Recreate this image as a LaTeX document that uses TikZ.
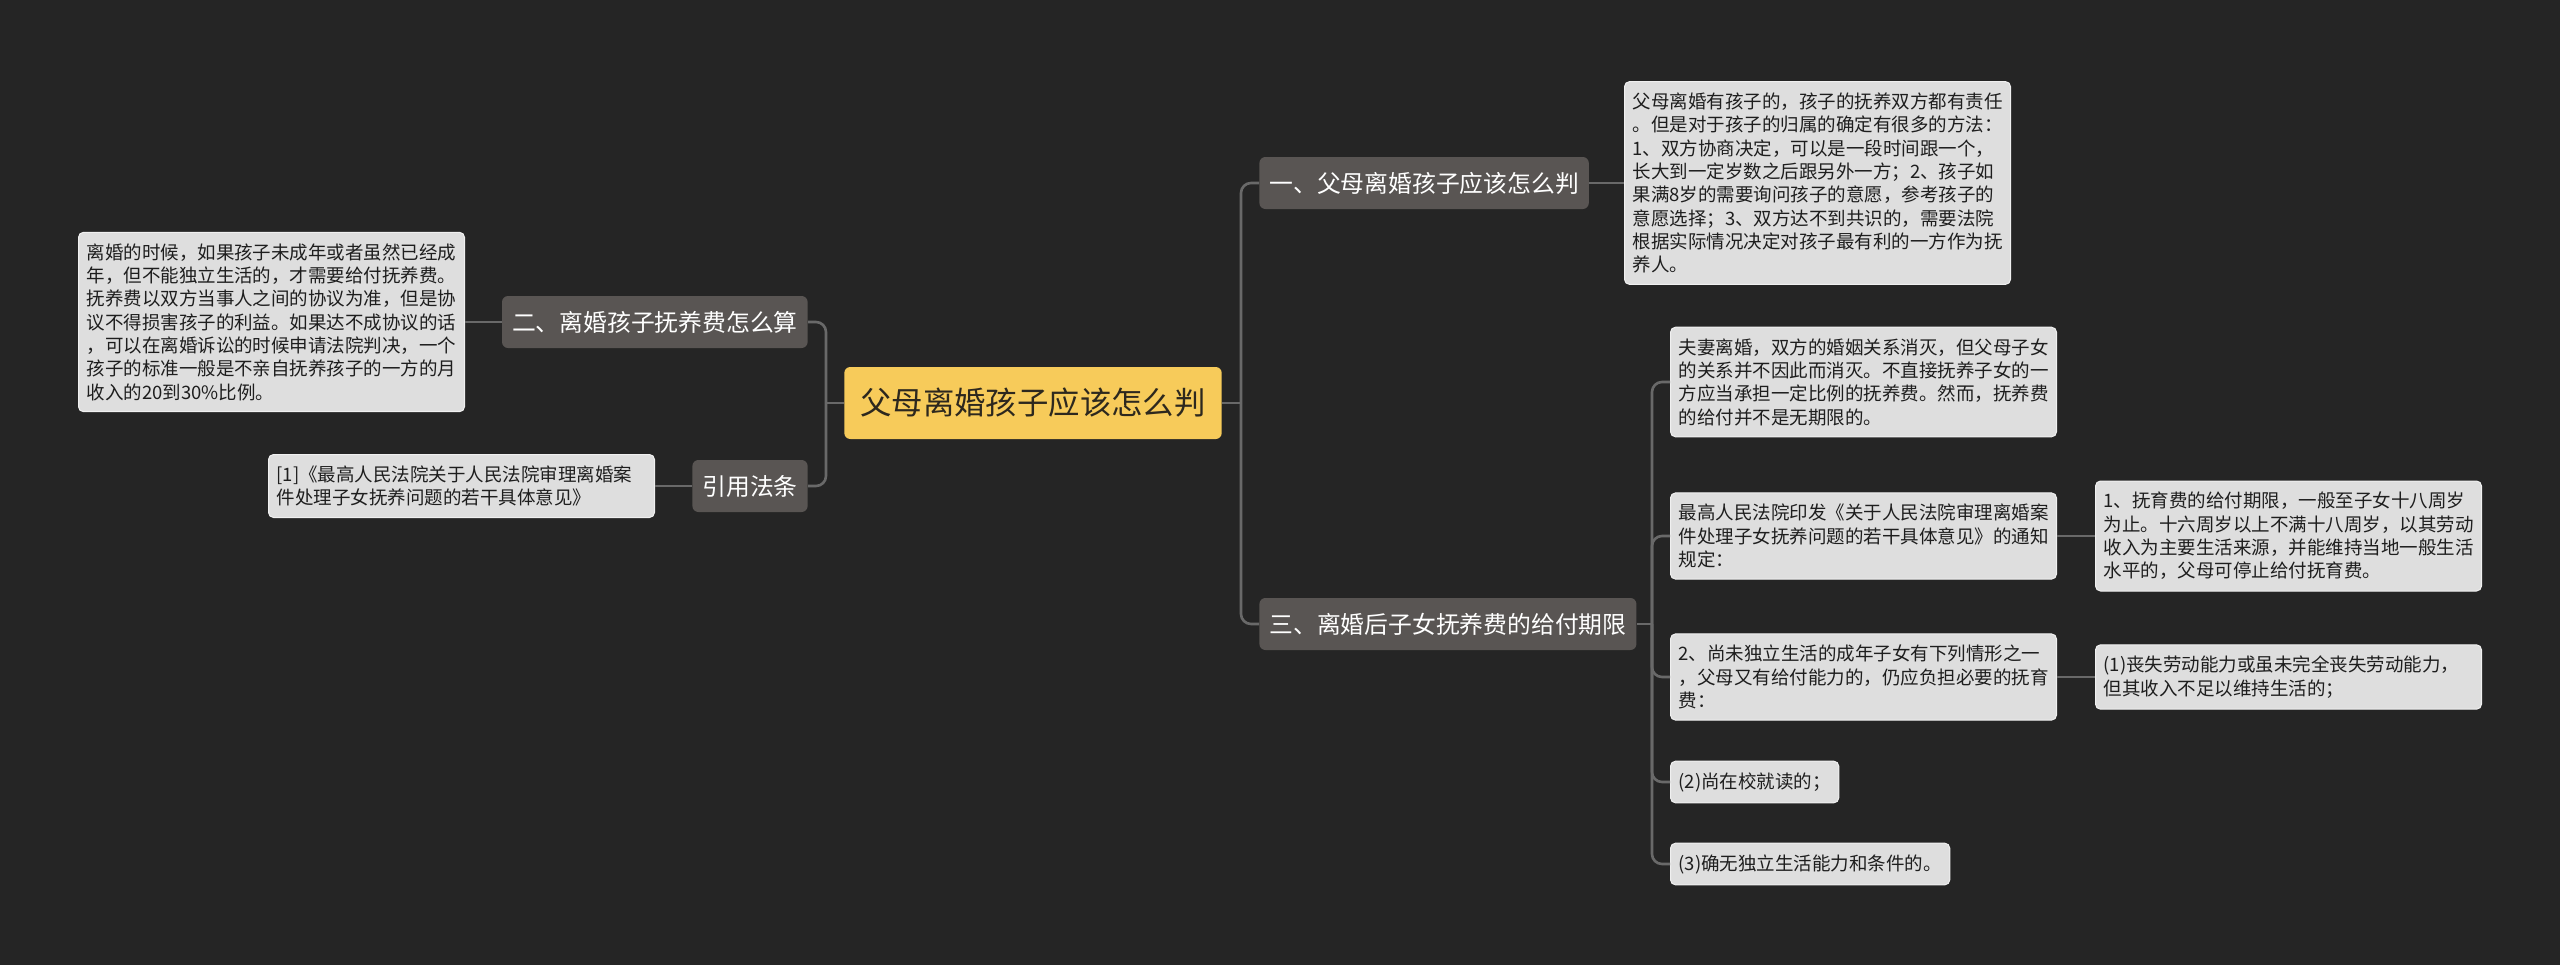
\documentclass[tikz,border=0pt]{standalone}
\usepackage{fontspec}
\setmainfont{Noto Sans CJK SC}
\usetikzlibrary{positioning}
\definecolor{bgdark}{RGB}{37,37,37}
\definecolor{rootfill}{RGB}{247,203,90}
\definecolor{rootink}{RGB}{45,40,30}
\definecolor{branchfill}{RGB}{89,85,83}
\definecolor{leaffill}{RGB}{222,222,222}
\definecolor{leafrim}{RGB}{240,240,240}
\definecolor{leafink}{RGB}{30,30,30}
\definecolor{wire}{RGB}{105,105,105}
\tikzset{
  root/.style={fill=rootfill,text=rootink,rounded corners=3pt,inner xsep=8pt,
    minimum height=36pt,font=\fontsize{15.7}{18}\selectfont},
  branch/.style={fill=branchfill,text=white,rounded corners=3pt,inner xsep=5pt,
    minimum height=26pt,font=\fontsize{11.9}{14}\selectfont},
  leaf/.style={fill=leaffill,draw=leafrim,line width=0.5pt,text=leafink,
    rounded corners=2.5pt,align=left,inner xsep=4pt,inner ysep=5.6pt,
    font=\fontsize{9.25}{11.65}\selectfont},
  wideleaf/.style={leaf,text width=185pt},
  wire/.style={draw=wire,line width=1.3pt},
  elbow/.style={wire,rounded corners=5pt},
}

\begin{document}
\begin{tikzpicture}[x=0.5pt,y=-0.5pt]
  \fill[bgdark] (0,0) rectangle (2560,965);
  \useasboundingbox (0,0) rectangle (2560,965);
  % centre
  \node[root] (root) at (1033,403) {父母离婚孩子应该怎么判};
  % right side
  \node[branch,anchor=west] (judge) at (1259,183) {一、父母离婚孩子应该怎么判};
  \node[branch,anchor=west] (term) at (1259,624) {三、离婚后子女抚养费的给付期限};
  \node[leaf,anchor=west] (judgetxt) at (1624,183) {父母离婚有孩子的，孩子的抚养双方都有责任\\
    。但是对于孩子的归属的确定有很多的方法：\\
    1、双方协商决定，可以是一段时间跟一个，\\
    长大到一定岁数之后跟另外一方；2、孩子如\\
    果满8岁的需要询问孩子的意愿，参考孩子的\\
    意愿选择；3、双方达不到共识的，需要法院\\
    根据实际情况决定对孩子最有利的一方作为抚\\
    养人。};
  \node[leaf,anchor=west] (termA) at (1670,382) {夫妻离婚，双方的婚姻关系消灭，但父母子女\\
    的关系并不因此而消灭。不直接抚养子女的一\\
    方应当承担一定比例的抚养费。然而，抚养费\\
    的给付并不是无期限的。};
  \node[leaf,anchor=west] (termB) at (1670,536) {最高人民法院印发《关于人民法院审理离婚案\\
    件处理子女抚养问题的若干具体意见》的通知\\
    规定：};
  \node[leaf,anchor=west] (termBsub) at (2095,536) {1、抚育费的给付期限，一般至子女十八周岁\\
    为止。十六周岁以上不满十八周岁，以其劳动\\
    收入为主要生活来源，并能维持当地一般生活\\
    水平的，父母可停止给付抚育费。};
  \node[leaf,anchor=west] (termC) at (1670,677) {2、尚未独立生活的成年子女有下列情形之一\\
    ，父母又有给付能力的，仍应负担必要的抚育\\
    费：};
  \node[wideleaf,anchor=west] (termCsub) at (2095,677) {(1)丧失劳动能力或虽未完全丧失劳动能力，\\
    但其收入不足以维持生活的；};
  \node[leaf,anchor=west] (termD) at (1670,782) {(2)尚在校就读的；};
  \node[leaf,anchor=west] (termE) at (1670,864) {(3)确无独立生活能力和条件的。};
  % left side
  \node[branch,anchor=east] (fee) at (808,322) {二、离婚孩子抚养费怎么算};
  \node[branch,anchor=east] (law) at (808,486) {引用法条};
  \node[leaf,anchor=east] (feetxt) at (465,322) {离婚的时候，如果孩子未成年或者虽然已经成\\
    年，但不能独立生活的，才需要给付抚养费。\\
    抚养费以双方当事人之间的协议为准，但是协\\
    议不得损害孩子的利益。如果达不成协议的话\\
    ，可以在离婚诉讼的时候申请法院判决，一个\\
    孩子的标准一般是不亲自抚养孩子的一方的月\\
    收入的20到30\%比例。};
  \node[wideleaf,anchor=east] (lawtxt) at (655,486) {[1]《最高人民法院关于人民法院审理离婚案\\
    件处理子女抚养问题的若干具体意见》};
  % junctions
  \coordinate (rjoin) at (1241,403);
  \coordinate (ljoin) at (826,403);
  \coordinate (tjoin) at (1652,624);
  % connectors
  \draw[wire] (root.east) -- (rjoin);
  \draw[elbow] (rjoin) |- (judge.west);
  \draw[elbow] (rjoin) |- (term.west);
  \draw[wire] (root.west) -- (ljoin);
  \draw[elbow] (ljoin) |- (fee.east);
  \draw[elbow] (ljoin) |- (law.east);
  \draw[wire] (judge.east) -- (judgetxt.west);
  \draw[wire] (fee.west) -- (feetxt.east);
  \draw[wire] (law.west) -- (lawtxt.east);
  \draw[wire] (term.east) -- (tjoin);
  \foreach \n in {termA,termB,termC,termD,termE}
    \draw[elbow] (tjoin) |- (\n.west);
  \draw[wire] (termB.east) -- (termBsub.west);
  \draw[wire] (termC.east) -- (termCsub.west);
\end{tikzpicture}
\end{document}
